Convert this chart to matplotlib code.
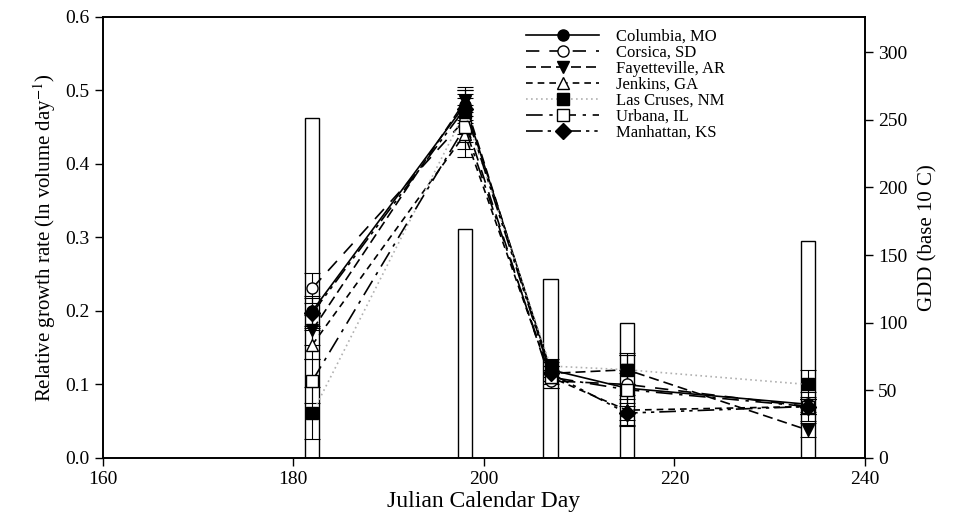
import numpy as np
import matplotlib
matplotlib.use('Agg')
import matplotlib.pyplot as plt

plt.rcParams['font.family'] = ['Liberation Serif', 'DejaVu Serif']
plt.rcParams['mathtext.fontset'] = 'stix'

# Julian day of sampling
dias = [182, 198, 207, 215, 234]

# GDD per sampling interval (bars, right axis)
gdd = [251, 169, 132, 100, 160]

# relative growth rate per location
sitios = ['Columbia, MO', 'Corsica, SD', 'Fayetteville, AR', 'Jenkins, GA',
          'Las Cruses, NM', 'Urbana, IL', 'Manhattan, KS']
columbia = [0.200, 0.480, 0.120, 0.095, 0.073]
corsica = [0.231, 0.460, 0.105, 0.100, 0.070]
fayetteville = [0.174, 0.485, 0.115, 0.120, 0.038]
jenkins = [0.154, 0.440, 0.110, 0.065, 0.070]
las_cruses = [0.061, 0.470, 0.125, 0.120, 0.100]
urbana = [0.105, 0.450, 0.110, 0.093, 0.070]
manhattan = [0.197, 0.475, 0.115, 0.061, 0.070]

# standard errors
err_columbia = [0.02, 0.02, 0.010, 0.02, 0.01]
err_corsica = [0.02, 0.03, 0.010, 0.02, 0.01]
err_fayetteville = [0.02, 0.02, 0.010, 0.02, 0.01]
err_jenkins = [0.02, 0.03, 0.010, 0.02, 0.01]
err_las_cruses = [0.035, 0.03, 0.010, 0.02, 0.02]
err_urbana = [0.03, 0.03, 0.015, 0.05, 0.02]
err_manhattan = [0.02, 0.02, 0.010, 0.01, 0.01]

series = [columbia, corsica, fayetteville, jenkins, las_cruses, urbana, manhattan]
errores = [err_columbia, err_corsica, err_fayetteville, err_jenkins,
           err_las_cruses, err_urbana, err_manhattan]

# estilo de cada serie
estilos = [
    dict(ls='-', marker='o', mfc='black', color='black'),
    dict(ls=(0, (8, 6)), marker='o', mfc='white', color='black'),
    dict(ls=(0, (6, 3)), marker='v', mfc='black', color='black'),
    dict(ls=(0, (4, 3)), marker='^', mfc='white', color='black'),
    dict(ls=(0, (1, 2)), marker='s', mfc='black', color='#b0b0b0'),
    dict(ls=(0, (10, 4, 2, 4)), marker='s', mfc='white', color='black'),
    dict(ls=(0, (10, 3, 2, 3, 2, 3)), marker='D', mfc='black', color='black'),
]

fig = plt.figure(figsize=(9.6, 5.27), dpi=100)
ax = fig.add_axes([0.107, 0.131, 0.794, 0.837])
ax2 = ax.twinx()

# barras de GDD en el eje derecho
ax2.bar(dias, gdd, width=1.5, color='white', edgecolor='black', linewidth=1.0)
ax2.set_ylim(0, 326)
ax2.set_yticks(range(0, 301, 50))
ax2.set_ylabel('GDD (base 10 C)', fontsize=15, labelpad=8)

# lineas encima de las barras
ax.set_zorder(ax2.get_zorder() + 1)
ax.patch.set_visible(False)

for nombre, y, e, st in zip(sitios, series, errores, estilos):
    ax.errorbar(dias, y, yerr=e, ls='none', ecolor='black', elinewidth=0.8,
                capsize=6, capthick=0.8, zorder=2)
    ax.plot(dias, y, ls=st['ls'], color=st['color'], lw=1.2,
            marker=st['marker'], mfc=st['mfc'], mec='black', ms=8,
            label=nombre, zorder=3)

ax.set_xlim(160, 240)
ax.set_ylim(0, 0.6)
ax.set_xticks([160, 180, 200, 220, 240])
ax.set_yticks(np.arange(0, 0.61, 0.1))
ax.set_yticklabels(['%.1f' % v for v in np.arange(0, 0.61, 0.1)])
ax.set_xlabel('Julian Calendar Day', fontsize=17, labelpad=2)
ax.set_ylabel('Relative growth rate (ln volume day$^{-1}$)', fontsize=15, labelpad=5)

for a in (ax, ax2):
    a.tick_params(direction='out', length=6, width=1, labelsize=14)
    for s in a.spines.values():
        s.set_linewidth(1.2)

leg = ax.legend(loc='upper left', bbox_to_anchor=(0.54, 1.0), frameon=False,
                fontsize=12, handlelength=4.4, labelspacing=0.0,
                borderaxespad=0.3, handletextpad=1.0)
for h in leg.legend_handles:
    h.set_markersize(8)

plt.savefig('out.png', dpi=100)
